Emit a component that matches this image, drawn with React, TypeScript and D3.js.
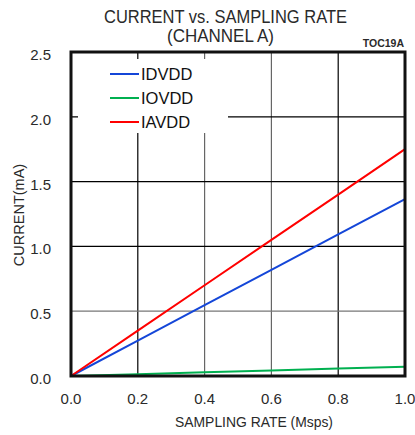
import React from "react";
import * as d3 from "d3";

const rates = [0, 0.2, 0.4, 0.6, 0.8, 1.0];
const idvdd = [0, 0.273, 0.546, 0.819, 1.092, 1.365];
const iovdd = [0, 0.014, 0.029, 0.043, 0.058, 0.072];
const iavdd = [0, 0.35, 0.7, 1.05, 1.4, 1.75];
const xTicks = [0, 0.2, 0.4, 0.6, 0.8, 1.0];
const yTicks = [0, 0.5, 1.0, 1.5, 2.0, 2.5];
const seriesNames = ["IDVDD", "IOVDD", "IAVDD"];
const seriesColors = ["#1446d8", "#00b050", "#ff0000"];
const xGridColors = ["#000", "#000", "#666", "#666", "#000", "#000"];
const yGridColors = ["#000", "#777", "#000", "#000", "#000", "#000"];

export default function App() {
  const W = 415, H = 435;
  const L = 71, R = 405, T = 52, B = 376;
  const x = d3.scaleLinear().domain([0, 1]).range([L, R]);
  const y = d3.scaleLinear().domain([0, 2.5]).range([B, T]);
  const series = [idvdd, iovdd, iavdd];
  const line = d3.line<number>().x((_, i) => x(rates[i])).y((d) => y(d));
  const font = "'Liberation Sans', Arial, sans-serif";
  const leg = { x0: 78, x1: 228, y0: 59, y1: 133 };
  const txt = "#2a2a2a";
  return (
    <svg width={W} height={H} style={{ position: "absolute", left: 0, top: 0 }} fontFamily={font}>
      <rect x={0} y={0} width={W} height={H} fill="#fff" />
      {xTicks.slice(1, -1).map((t, i) => (
        <line key={"gx" + i} x1={x(t)} x2={x(t)} y1={T} y2={B} stroke={xGridColors[i + 1]} strokeWidth={1.2} />
      ))}
      {yTicks.slice(1, -1).map((t, i) => (
        <line key={"gy" + i} x1={L} x2={R} y1={y(t)} y2={y(t)} stroke={yGridColors[i + 1]} strokeWidth={1.2} />
      ))}
      <rect x={leg.x0} y={leg.y0} width={leg.x1 - leg.x0} height={leg.y1 - leg.y0} fill="#fff" />
      {series.map((s, i) => (
        <path key={"s" + i} d={line(s) || ""} fill="none" stroke={seriesColors[i]} strokeWidth={2} />
      ))}
      <rect x={L} y={T} width={R - L} height={B - T} fill="none" stroke="#111" strokeWidth={3} />
      {seriesNames.map((n, i) => (
        <g key={"l" + i}>
          <line x1={110} x2={139} y1={74 + i * 24} y2={74 + i * 24} stroke={seriesColors[i]} strokeWidth={2} />
          <text x={141} y={74 + i * 24 + 6} fontSize={16.5} fill="#111">{n}</text>
        </g>
      ))}
      {xTicks.map((t, i) => (
        <text key={"xt" + i} x={x(t)} y={404} fontSize={15} textAnchor="middle" fill={txt}>{t.toFixed(1)}</text>
      ))}
      {yTicks.map((t, i) => (
        <text key={"yt" + i} x={51} y={y(t) + 8} fontSize={15} textAnchor="end" fill={txt}>{t.toFixed(1)}</text>
      ))}
      <text x={254} y={427} fontSize={14.5} textAnchor="middle" fill={txt} textLength={158} lengthAdjust="spacingAndGlyphs">SAMPLING RATE (Msps)</text>
      <text transform={`translate(24,215) rotate(-90)`} fontSize={14.5} textAnchor="middle" fill={txt}>CURRENT(mA)</text>
      <text x={225.5} y={23} fontSize={19} textAnchor="middle" fill={txt} textLength={243} lengthAdjust="spacingAndGlyphs">CURRENT vs. SAMPLING RATE</text>
      <text x={220.5} y={42} fontSize={19} textAnchor="middle" fill={txt} textLength={107} lengthAdjust="spacingAndGlyphs">(CHANNEL A)</text>
      <text x={404} y={47} fontSize={10.5} fontWeight="bold" textAnchor="end" fill={txt}>TOC19A</text>
    </svg>
  );
}
